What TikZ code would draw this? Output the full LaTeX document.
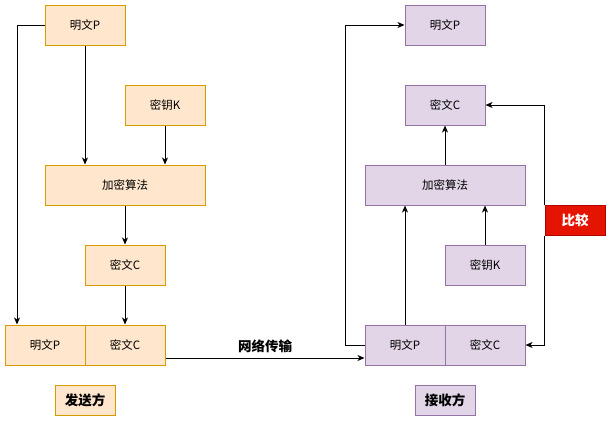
\documentclass[tikz,border=0pt]{standalone}
\usepackage{fontspec}
\newfontfamily\cjk{Noto Sans CJK SC}
\usetikzlibrary{positioning,arrows.meta}

\definecolor{sendfill}{HTML}{FFE6CC}
\definecolor{senddraw}{HTML}{D79B00}
\definecolor{recvfill}{HTML}{E1D5E7}
\definecolor{recvdraw}{HTML}{9673A6}
\definecolor{cmpfill}{HTML}{E51400}
\definecolor{cmpdraw}{HTML}{B20000}

\begin{document}
\begin{tikzpicture}[
    x=1pt, y=-1pt,
    font=\cjk\fontsize{11.5}{13}\selectfont,
    sendbox/.style={rectangle, draw=senddraw, fill=sendfill, line width=1pt, minimum width=80pt, minimum height=40pt, inner sep=0pt},
    recvbox/.style={rectangle, draw=recvdraw, fill=recvfill, line width=1pt, minimum width=80pt, minimum height=40pt, inner sep=0pt},
    widebox/.style={minimum width=160pt},
    tagbox/.style={rectangle, line width=1pt, minimum width=60pt, minimum height=30pt, inner sep=0pt, font=\cjk\bfseries\fontsize{13.5}{15}\selectfont},
    flow/.style={->, >={Stealth[length=7pt, width=6pt, inset=2pt]}, draw=black, line width=1pt}
    ]
        \useasboundingbox (0,0) rectangle (611,421);

        %Sender
        \node[sendbox]
            (plainS)       at (85,25)   {明文P};
        \node[sendbox]
            (keyS)         at (165,105) {密钥K};
        \node[sendbox, widebox]
            (encS)         at (125,185) {加密算法};
        \node[sendbox]
            (cipherS)      at (125,265) {密文C};
        \node[sendbox]
            (outPlainS)    at (45,345)  {明文P};
        \node[sendbox]
            (outCipherS)   at (125,345) {密文C};
        \node[tagbox, draw=senddraw, fill=sendfill]
            (sender)       at (85,400)  {发送方};

        %Receiver
        \node[recvbox]
            (plainR)       at (445,25)  {明文P};
        \node[recvbox]
            (cipherR)      at (445,105) {密文C};
        \node[recvbox, widebox]
            (encR)         at (445,185) {加密算法};
        \node[recvbox]
            (keyR)         at (485,265) {密钥K};
        \node[recvbox]
            (inPlainR)     at (405,345) {明文P};
        \node[recvbox]
            (inCipherR)    at (485,345) {密文C};
        \node[tagbox, draw=recvdraw, fill=recvfill]
            (receiver)     at (445,400) {接收方};
        \node[tagbox, draw=cmpdraw, fill=cmpfill, text=white]
            (compare)      at (575,220) {比较};

        %Sender lines
        \draw[flow] (plainS.west) -| (outPlainS.north -| 17,0);
        \draw[flow] (plainS.south) -- (encS.north -| plainS.south);
        \draw[flow] (keyS.south) -- (encS.north -| keyS.south);
        \draw[flow] (encS.south) -- (cipherS.north);
        \draw[flow] (cipherS.south) -- (outCipherS.north);

        %Transfer
        \draw[flow] (outCipherS.east |- 0,358) -- node[above=1pt, font=\cjk\bfseries\fontsize{13.5}{15}\selectfont] {网络传输} (inPlainR.west |- 0,358);

        %Receiver lines
        \draw[flow] (inPlainR.west |- 0,345) -- (345,345) |- (plainR.west);
        \draw[flow] (inPlainR.north) -- (encR.south -| inPlainR.north);
        \draw[flow] (keyR.north) -- (encR.south -| keyR.north);
        \draw[flow] (encR.north) -- (cipherR.south);
        \draw[flow] (compare.north west) |- (cipherR.east);
        \draw[flow] (compare.south west) |- (inCipherR.east);
    \end{tikzpicture}
\end{document}
